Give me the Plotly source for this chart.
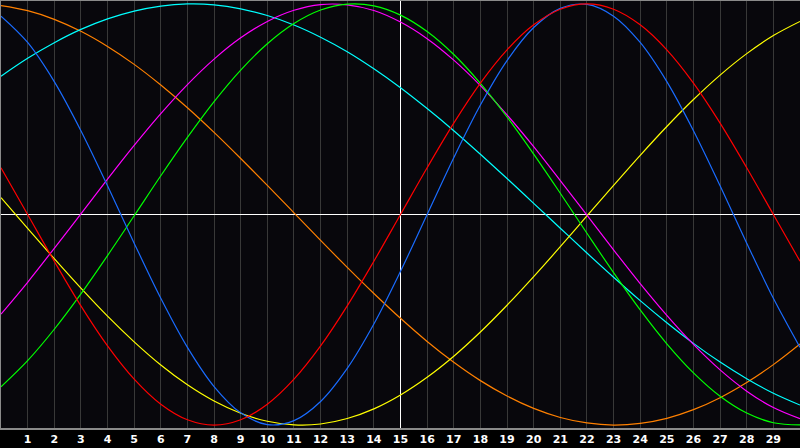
import plotly.graph_objs as go

# day index along the bottom axis
days = list(range(31))
day_labels = [str(d) for d in range(1, 30)]

# cycle values, one per day (0..30)
red = [0.222, 0.0, -0.222, -0.434, -0.624, -0.782, -0.901, -0.975, -1.0, -0.975, -0.901,
       -0.782, -0.624, -0.434, -0.222, 0.0, 0.222, 0.434, 0.624, 0.782, 0.901,
       0.975, 1.0, 0.975, 0.901, 0.782, 0.624, 0.434, 0.222, 0.0, -0.222]
blue = [0.942, 0.817, 0.631, 0.398, 0.136, -0.136, -0.398, -0.631, -0.817, -0.942, -0.998,
        -0.979, -0.888, -0.731, -0.520, -0.270, 0.0, 0.270, 0.520, 0.731, 0.888,
        0.979, 0.998, 0.942, 0.817, 0.631, 0.398, 0.136, -0.136, -0.398, -0.631]
green = [-0.818, -0.694, -0.545, -0.377, -0.195, -0.006, 0.184, 0.366, 0.536, 0.686, 0.811,
         0.907, 0.971, 0.999, 0.991, 0.947, 0.869, 0.760, 0.623, 0.463, 0.287,
         0.101, -0.089, -0.276, -0.453, -0.614, -0.752, -0.863, -0.943, -0.989, -0.999]
magenta = [-0.473, -0.322, -0.161, 0.003, 0.168, 0.328, 0.479, 0.617, 0.738, 0.839, 0.917,
           0.97, 0.997, 0.996, 0.969, 0.914, 0.835, 0.733, 0.612, 0.473, 0.322,
           0.161, -0.003, -0.168, -0.328, -0.479, -0.617, -0.738, -0.839, -0.917, -0.97]
yellow = [0.08, -0.066, -0.21, -0.35, -0.483, -0.605, -0.715, -0.809, -0.886, -0.944, -0.982,
          -0.999, -0.995, -0.969, -0.923, -0.857, -0.773, -0.673, -0.558, -0.431, -0.295,
          -0.153, -0.007, 0.138, 0.281, 0.418, 0.546, 0.662, 0.764, 0.85, 0.917]
orange = [0.992, 0.968, 0.927, 0.87, 0.798, 0.713, 0.615, 0.507, 0.39, 0.266, 0.138,
          0.008, -0.123, -0.251, -0.375, -0.493, -0.603, -0.702, -0.789, -0.862, -0.921,
          -0.964, -0.99, -1.0, -0.992, -0.968, -0.927, -0.87, -0.798, -0.713, -0.615]
cyan = [0.657, 0.742, 0.816, 0.879, 0.929, 0.966, 0.99, 1.0, 0.996, 0.977, 0.945,
        0.9, 0.842, 0.773, 0.692, 0.602, 0.503, 0.398, 0.286, 0.171, 0.053,
        -0.065, -0.183, -0.298, -0.409, -0.514, -0.612, -0.701, -0.78, -0.849, -0.905]

today = 15
y_lim = 1.014

series = [
    ('orange', orange, '#ff8000'),
    ('cyan', cyan, '#00ffff'),
    ('yellow', yellow, '#ffff00'),
    ('magenta', magenta, '#ff00ff'),
    ('green', green, '#00ff00'),
    ('blue', blue, '#1a6cff'),
    ('red', red, '#ff0000'),
]

fig = go.Figure()
for name, ydata, color in series:
    fig.add_trace(go.Scatter(x=days, y=ydata, mode='lines', name=name,
                             line=dict(color=color, width=1.2, shape='spline'),
                             hoverinfo='skip'))

fig.update_layout(
    width=800,
    height=448,
    showlegend=False,
    margin=dict(l=1, r=0, t=1, b=20, autoexpand=False),
    paper_bgcolor='#000000',
    plot_bgcolor='#08070c',
    xaxis=dict(
        range=[0, 30],
        tickvals=list(range(1, 30)),
        ticktext=day_labels,
        showgrid=True,
        gridcolor='#383838',
        gridwidth=1,
        zeroline=False,
        showline=True,
        mirror=True,
        linecolor='#8a8a8a',
        linewidth=1.5,
        ticks='',
        tickfont=dict(family='DejaVu Sans', size=11, color='#ffffff', weight='bold'),
        fixedrange=True,
    ),
    # second axis only carries the white grid line for the current day
    xaxis2=dict(
        overlaying='x',
        side='bottom',
        range=[0, 30],
        tickvals=[today],
        showticklabels=False,
        showgrid=True,
        gridcolor='#ffffff',
        gridwidth=1,
        zeroline=False,
        showline=False,
        ticks='',
        fixedrange=True,
    ),
    yaxis=dict(
        range=[-y_lim, y_lim],
        showgrid=False,
        showticklabels=False,
        zeroline=True,
        zerolinecolor='#ffffff',
        zerolinewidth=1,
        showline=True,
        linecolor='#8a8a8a',
        linewidth=1.5,
        ticks='',
        fixedrange=True,
    ),
)

# an empty trace so the second x axis gets drawn
fig.add_trace(go.Scatter(x=[], y=[], xaxis='x2', yaxis='y', hoverinfo='skip', showlegend=False))

# drop the page's default body margin so the 800x448 figure fills the window
fig.write_html("out.html", config={'displayModeBar': False},
               post_script="document.body.style.margin='0';document.body.style.overflow='hidden';")
